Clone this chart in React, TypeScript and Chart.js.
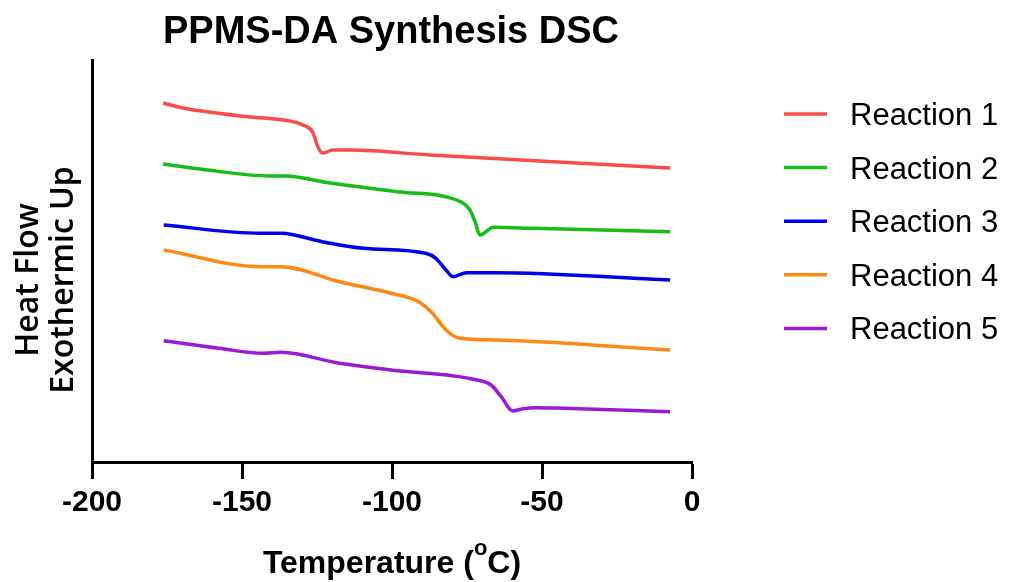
import React, { useEffect, useRef } from 'react';
import { Chart, registerables } from 'chart.js';

Chart.register(...registerables);

const chartTitle = 'PPMS-DA Synthesis DSC';
const yTitleLines = ['Heat Flow', 'Exothermic Up'];
const seriesNames = ['Reaction 1', 'Reaction 2', 'Reaction 3', 'Reaction 4', 'Reaction 5'];
const seriesColors = ['rgb(250,75,75)', 'rgb(20,190,20)', 'rgb(0,0,235)', 'rgb(255,135,20)', 'rgb(155,25,215)'];
const xTickValues = [-200, -150, -100, -50, 0];

const r1Temp = [-176.3, -169.7, -147.3, -136.3, -129.7, -126.3, -124.7, -123.0, -119.7, -114.0, -87.3, -7.3];
const r1Flow = [359, 354, 345, 342, 337, 329, 315, 309, 312, 312, 307, 294];

const r2Temp = [-176.3, -164.0, -140.7, -135.7, -120.7, -97.3, -78.4, -74.0, -72.3, -70.7, -66.2, -52.9, -7.3];
const r2Flow = [298, 293, 286, 286, 279, 270, 262, 252, 240, 227, 234.7, 233.7, 230.3];

const r3Temp = [-176.1, -143.9, -137.0, -123.3, -109.5, -88.8, -85.4, -82.0, -79.7, -75.1, -65.9, -7.3];
const r3Flow = [237, 228.7, 228.7, 220.3, 213.7, 208.7, 203.7, 192, 185.3, 189.3, 189.3, 182];

const r4Temp = [-176.1, -143.9, -137.0, -117.5, -100.3, -91.1, -86.5, -82.0, -77.4, -65.9, -7.3];
const r4Flow = [212, 195.3, 195.3, 180.3, 168.7, 160.3, 148.7, 132, 123.7, 122, 112];

const r5Temp = [-176.1, -157.7, -142.8, -137.0, -117.5, -100.3, -71.6, -67.0, -63.6, -59.8, -56.3, -52.1, -42.9, -7.3];
const r5Flow = [121.3, 113.7, 108.7, 109.7, 98.7, 92, 82, 77, 65.3, 51, 53.3, 54.3, 53.7, 50.3];

const allTemps = [r1Temp, r2Temp, r3Temp, r4Temp, r5Temp];
const allFlows = [r1Flow, r2Flow, r3Flow, r4Flow, r5Flow];

const decorPlugin = {
  id: 'decor',
  afterDraw(chart: any) {
    const ctx = chart.ctx;
    const area = chart.chartArea;
    ctx.save();
    ctx.fillStyle = '#000';

    // Title
    ctx.font = 'bold 38px "Liberation Sans", Arial, sans-serif';
    ctx.textAlign = 'center';
    ctx.textBaseline = 'alphabetic';
    ctx.fillText(chartTitle, (area.left + area.right) / 2 - 1, 43);

    // Y title (two lines, rotated)
    ctx.font = '600 32px "Open Sans", "Liberation Sans", sans-serif';
    const yCenter = 280;
    const baselines = [38, 73];
    yTitleLines.forEach((line, i) => {
      ctx.save();
      ctx.translate(baselines[i], yCenter);
      ctx.rotate(-Math.PI / 2);
      ctx.textAlign = 'center';
      ctx.fillText(line, 0, 0);
      ctx.restore();
    });

    // X title with superscript
    const partA = 'Temperature (';
    const sup = 'o';
    const partB = 'C)';
    const mainFont = 'bold 32px "Liberation Sans", Arial, sans-serif';
    const supFont = 'bold 22px "Liberation Sans", Arial, sans-serif';
    ctx.font = mainFont;
    const wA = ctx.measureText(partA).width;
    const wB = ctx.measureText(partB).width;
    ctx.font = supFont;
    const wS = ctx.measureText(sup).width;
    const total = wA + wS + wB;
    let x = (area.left + area.right) / 2 - total / 2;
    ctx.textAlign = 'left';
    ctx.font = mainFont;
    ctx.fillText(partA, x, 573);
    x += wA;
    ctx.font = supFont;
    ctx.fillText(sup, x, 555);
    x += wS;
    ctx.font = mainFont;
    ctx.fillText(partB, x, 573);

    // Legend
    const lineY0 = 114;
    const step = 53.6;
    seriesNames.forEach((name, i) => {
      const ly = lineY0 + step * i;
      ctx.strokeStyle = seriesColors[i];
      ctx.lineWidth = 3.5;
      ctx.beginPath();
      ctx.moveTo(784, ly);
      ctx.lineTo(827, ly);
      ctx.stroke();
      ctx.fillStyle = '#000';
      ctx.font = '31px "Liberation Sans", Arial, sans-serif';
      ctx.textAlign = 'left';
      ctx.fillText(name, 850, ly + 11);
    });
    ctx.restore();
  },
};

export default function App() {
  const canvasRef = useRef<HTMLCanvasElement | null>(null);

  useEffect(() => {
    const canvas = canvasRef.current;
    if (!canvas) return;
    const datasets = seriesNames.map((name, i) => ({
      label: name,
      data: allTemps[i].map((t, j) => ({ x: t, y: allFlows[i][j] })),
      borderColor: seriesColors[i],
      backgroundColor: seriesColors[i],
      borderWidth: 3.5,
      pointRadius: 0,
      cubicInterpolationMode: 'monotone' as const,
      fill: false,
    }));
    const chart = new Chart(canvas, {
      type: 'line',
      data: { datasets },
      plugins: [decorPlugin],
      options: {
        animation: false,
        responsive: false,
        maintainAspectRatio: false,
        layout: { padding: { left: 92, right: 318, top: 60, bottom: 0 } },
        plugins: {
          legend: { display: false },
          title: { display: false },
          tooltip: { enabled: false },
        },
        scales: {
          x: {
            type: 'linear',
            min: -200,
            max: 0,
            afterFit: (scale: any) => {
              scale.height = 120;
            },
            afterBuildTicks: (scale: any) => {
              scale.ticks = xTickValues.map((v) => ({ value: v }));
            },
            ticks: {
              color: '#000',
              padding: 6,
              font: { family: '"Liberation Sans", Arial, sans-serif', size: 30, weight: 'bold' },
            },
            grid: {
              display: true,
              drawOnChartArea: false,
              drawTicks: true,
              tickLength: 17,
              tickWidth: 3,
              tickColor: '#000',
            },
            border: { display: true, color: '#000', width: 3 },
          },
          y: {
            type: 'linear',
            min: 0,
            max: 402,
            afterFit: (scale: any) => {
              scale.width = 0;
            },
            ticks: { display: false },
            grid: { display: false, drawTicks: false },
            border: { display: true, color: '#000', width: 3 },
          },
        },
      },
    });
    return () => {
      chart.destroy();
    };
  }, []);

  return (
    <div style={{ position: 'absolute', left: 0, top: 0, width: 1010, height: 582, background: '#fff' }}>
      <canvas ref={canvasRef} width={1010} height={582} style={{ width: 1010, height: 582 }} />
    </div>
  );
}
